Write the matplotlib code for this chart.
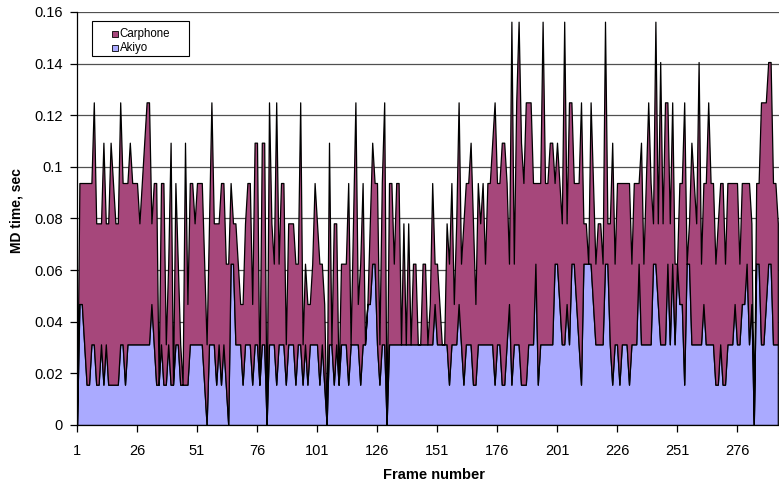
import matplotlib
matplotlib.use("Agg")
import matplotlib.pyplot as plt
from matplotlib.patches import Rectangle
import numpy as np

# Timer resolution: values are multiples of 1/64 s (15.625 ms)
TICK = 1.0 / 64.0

akiyo_ticks = [
    0,3,3,2,1,1,2,2,1,1, 2,1,2,1,1,1,1,1,2,2, 1,2,2,2,2,2,2,2,2,2, 2,3,2,1,1,2,1,1,2,1, 1,2,2,1,1,1,1,
    2,2,2,2,2,2,1,0,2,2, 2,1,2,1,2,1,0,4,4,2, 2,2,1,2,2,2,1,2,2,1, 2,2,0,2,2,2,1,2,2,2, 1,2,2,2,1,2,2,1,2,1,
    2,2,2,2,1,2,1,0,2,2, 1,2,1,2,2,2,1,2,2,2, 2,1,2,2,3,3,4,4,2,1, 2,2,0,2,2,2,2,2,2,2, 2,2,2,2,2,2,2,2,2,2,
    2,2,3,2,2,2,2,2,1,2, 2,2,3,2,1,2,2,2,1,1, 2,2,2,2,2,2,2,1,2,2, 1,1,2,3,1,2,2,2,1,1, 1,2,2,2,4,1,2,2,2,2,
    2,2,4,4,3,2,2,3,2,4, 4,3,2,1,4,4,4,4,3,2, 2,2,2,4,4,2,1,2,2,1, 2,2,2,1,2,2,2,4,2,2, 2,2,2,4,4,3,2,2,
    2,4,2,4,2,4,3,3,1,4, 4,2,2,2,2,2,3,2,2,2, 2,1,1,2,1,1,2,2,2,3, 2,2,3,3,4,2,3,0,4,4, 2,2,3,4,4,2,2,2,
]
carphone_ticks = [
    0,3,3,4,5,5,4,6,4,4, 3,6,3,4,6,5,4,4,6,4, 5,4,5,4,4,4,3,4,5,6, 6,2,4,5,0,4,5,1,2,6, 0,4,2,1,0,6,2,
    4,4,3,4,4,4,3,2,3,6, 3,4,3,5,4,3,4,2,1,3, 2,1,2,3,4,4,2,5,5,0, 5,5,0,6,3,2,7,2,4,4, 1,3,3,3,3,2,6,1,2,2,
    1,2,4,3,3,2,2,0,5,0, 4,3,0,2,2,2,5,0,3,6, 1,3,4,0,0,2,3,2,4,1, 4,6,0,4,4,2,4,4,0,3, 0,3,0,2,2,0,0,2,2,0,
    1,4,1,2,1,0,0,3,3,4, 1,3,5,2,4,4,4,5,4,2, 4,3,4,2,4,4,5,7,4,4, 6,6,4,1,9,2,6,8,6,5, 7,6,6,4,2,5,4,8,4,4,
    5,5,2,3,3,3,8,2,6,4, 2,3,4,7,1,1,0,4,3,2, 3,3,2,6,1,3,6,2,4,5, 4,4,4,5,2,4,4,2,5,2, 4,6,4,1,6,2,7,3,
    6,4,3,4,2,0,3,3,7,0, 1,5,4,3,7,2,3,4,6,4, 4,3,4,4,5,3,4,4,4,3, 4,2,3,3,2,4,2,0,2,2, 6,6,5,5,5,4,4,3,
]

series_names = ["Carphone", "Akiyo"]
x_ticks = [1, 26, 51, 76, 101, 126, 151, 176, 201, 226, 251, 276]
y_ticks = [0, 0.02, 0.04, 0.06, 0.08, 0.1, 0.12, 0.14, 0.16]
y_tick_labels = ["0", "0.02", "0.04", "0.06", "0.08", "0.1", "0.12", "0.14", "0.16"]
x_title = "Frame number"
y_title = "MD time, sec"

akiyo = np.array(akiyo_ticks) * TICK
carphone = np.array(carphone_ticks) * TICK
frames = np.arange(1, len(akiyo) + 1)

col_carphone = "#A6477B"
col_akiyo = "#AAAAFF"

plt.rcParams["font.family"] = ["Liberation Sans", "DejaVu Sans"]

W, H = 779, 483
fig = plt.figure(figsize=(W / 100, H / 100), dpi=100)
ax = fig.add_axes([77 / W, (H - 425) / H, 1 - 77 / W, (425 - 12) / H])


def fx(px):
    return px / W


def fy(py):
    return 1 - py / H


for yv in y_ticks[1:]:
    ax.axhline(yv, color="#505050", lw=0.9, zorder=0)

ax.stackplot(frames, akiyo, carphone, colors=[col_akiyo, col_carphone],
             edgecolor="black", linewidth=0.9, zorder=2)

ax.set_xlim(1, 293.5)
ax.set_ylim(0, 0.16)
ax.set_xticks(x_ticks)
ax.set_xticklabels([str(v) for v in x_ticks], fontsize=10.5)
ax.set_yticks(y_ticks)
ax.set_yticklabels(y_tick_labels, fontsize=10.5)
ax.tick_params(axis="both", direction="out", length=5, width=0.9, color="black")
ax.tick_params(axis="x", pad=9)
ax.tick_params(axis="y", pad=5)

for s in ["top", "right"]:
    ax.spines[s].set_visible(False)
for s in ["left", "bottom"]:
    ax.spines[s].set_color("black")
    ax.spines[s].set_linewidth(0.9)
    ax.spines[s].set_zorder(5)

# axis titles
fig.text(fx(434), fy(475), x_title, fontsize=10.5, fontweight="bold",
         ha="center", va="center")
fig.text(fx(17), fy(211), y_title, fontsize=10, fontweight="bold",
         ha="center", va="center", rotation=90)

# legend (Excel-style box)
fig.add_artist(Rectangle((fx(92), fy(56)), (189 - 92) / W, (56 - 21) / H,
                         transform=fig.transFigure, facecolor="white",
                         edgecolor="black", lw=0.8, zorder=10))
legend_cols = [col_carphone, col_akiyo]
legend_y = [34, 48]
for name, col, yy in zip(series_names, legend_cols, legend_y):
    fig.add_artist(Rectangle((fx(112), fy(yy + 3)), 6 / W, 6 / H,
                             transform=fig.transFigure, facecolor=col,
                             edgecolor="black", lw=0.6, zorder=11))
    fig.text(fx(119.5), fy(yy), name, fontsize=8.3, ha="left", va="center",
             zorder=12)

fig.savefig("out.png", dpi=100)
